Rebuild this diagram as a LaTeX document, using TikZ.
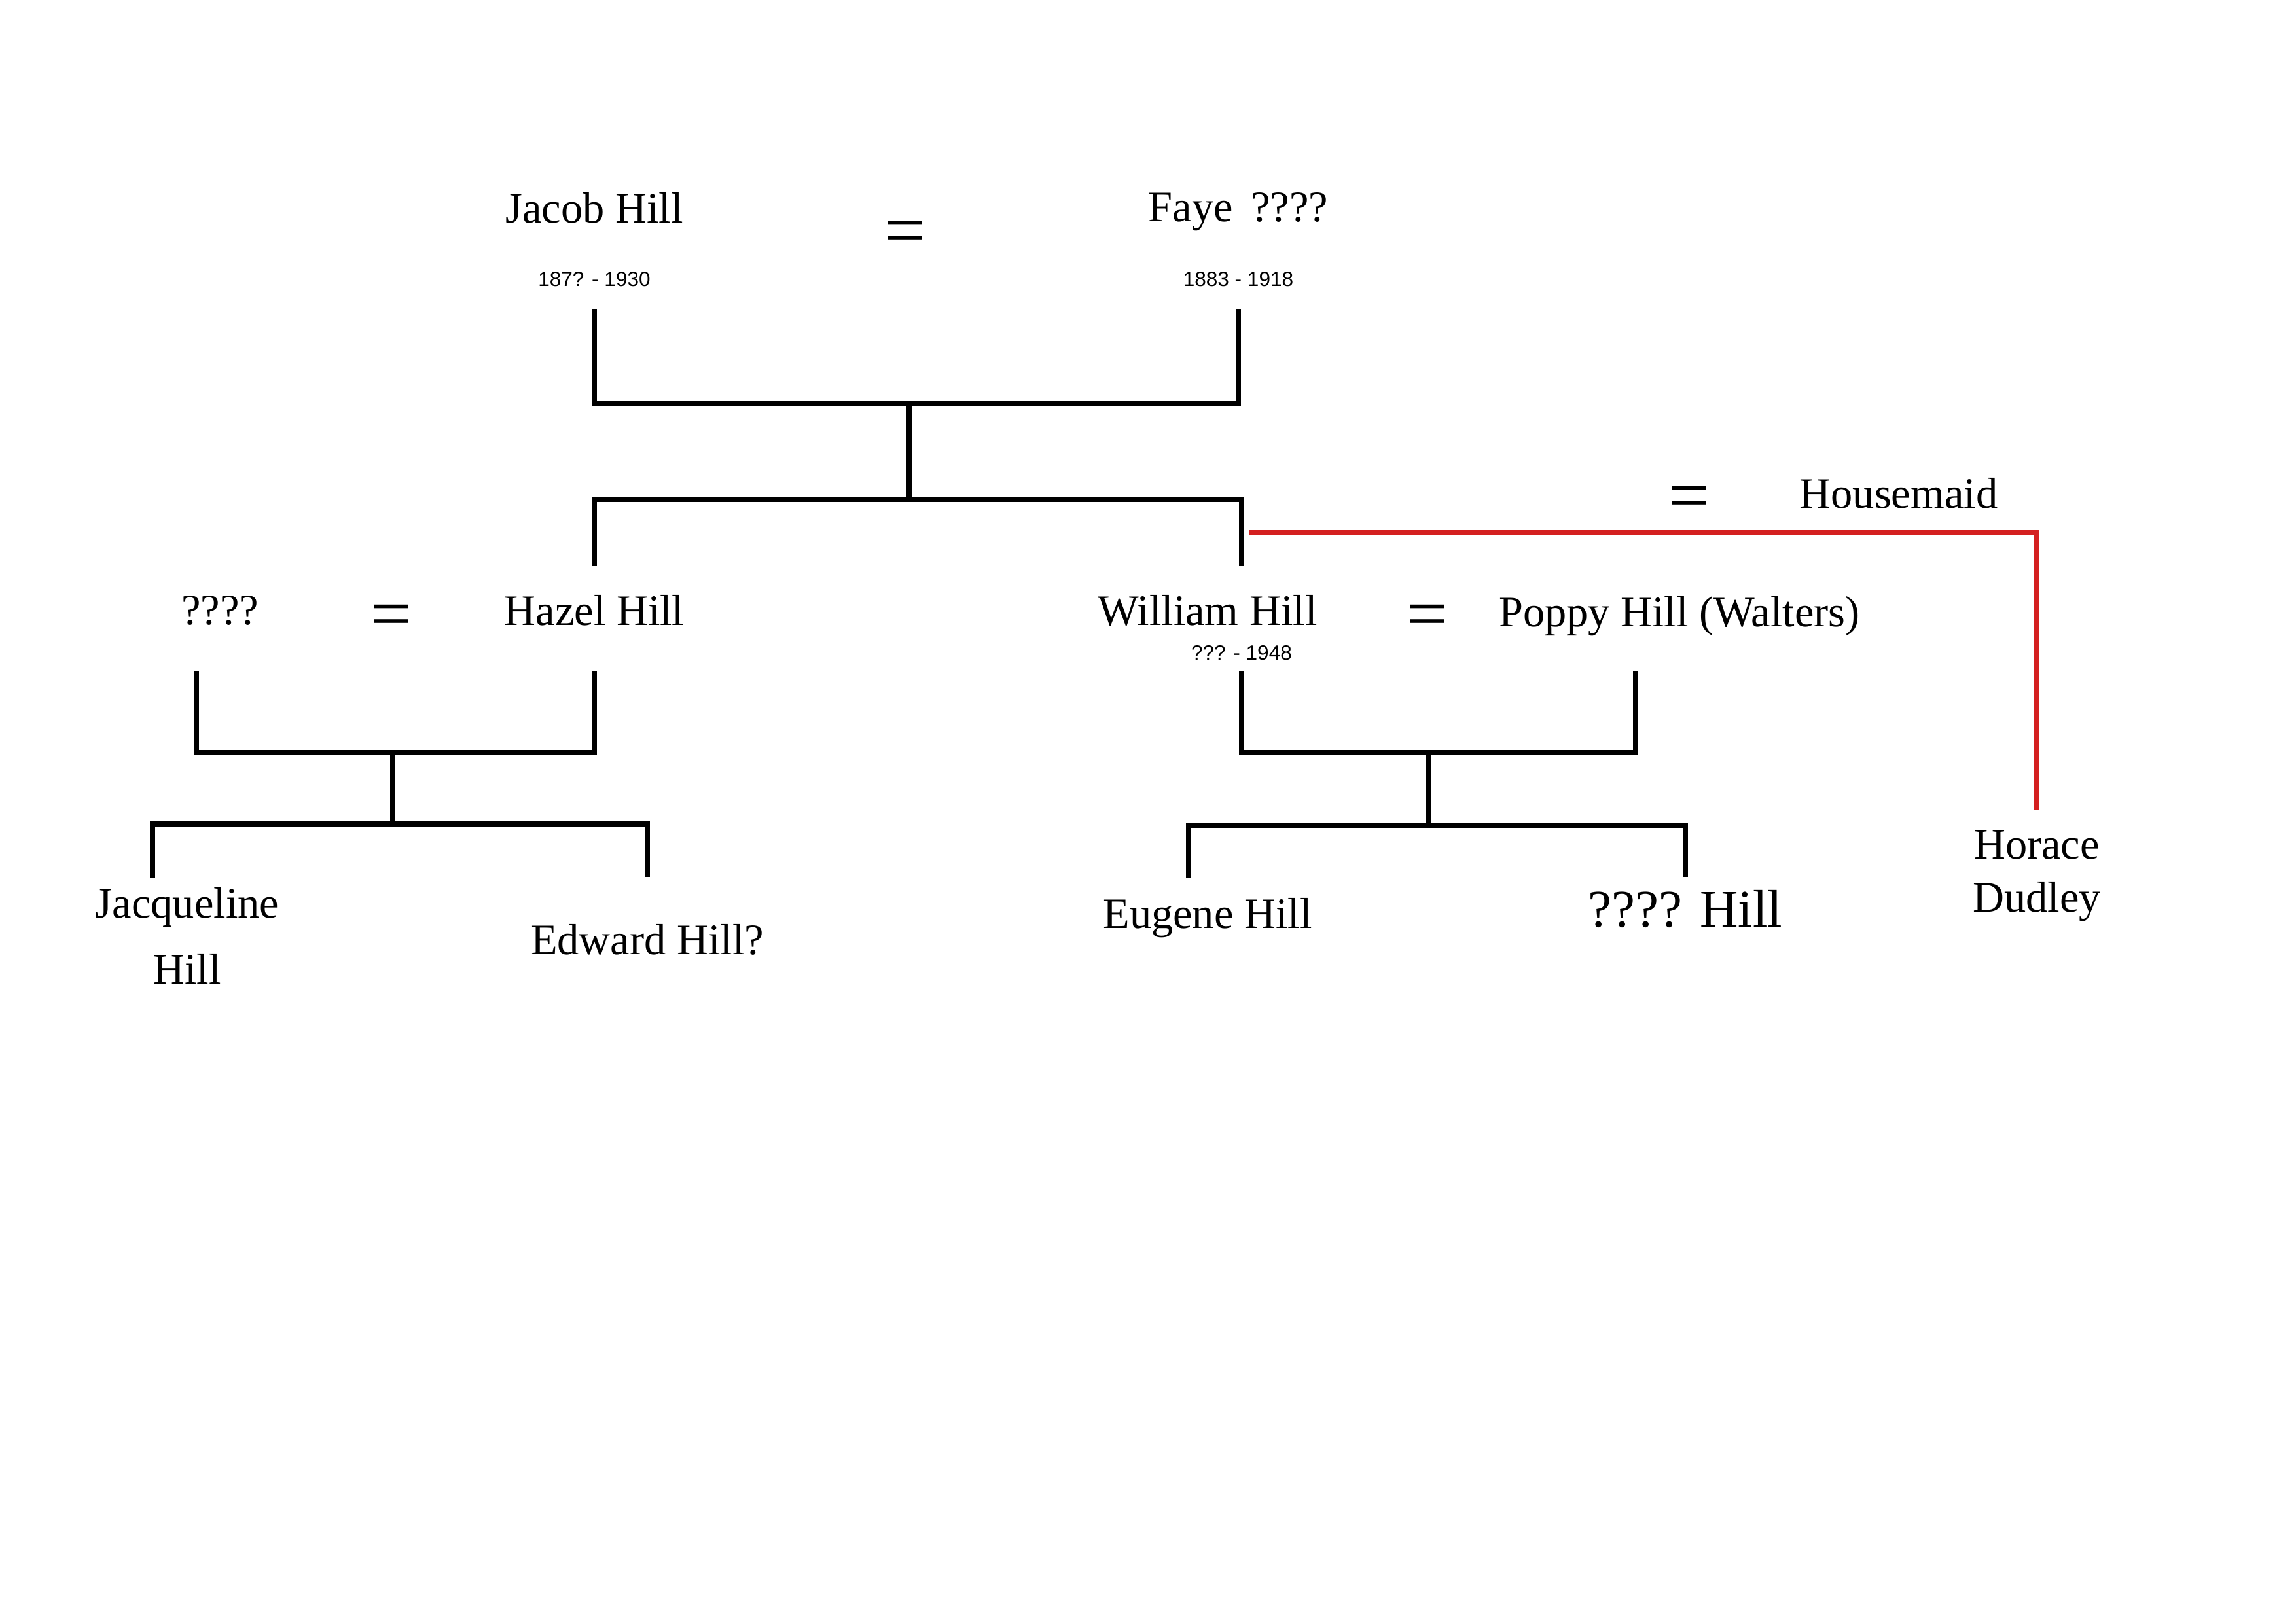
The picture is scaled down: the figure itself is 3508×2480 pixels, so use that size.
\documentclass[tikz,border=0pt]{standalone}
\usepackage{fontspec}
\setmainfont{Liberation Serif}
\newfontfamily\datefont{Liberation Sans}
\usetikzlibrary{calc}
\definecolor{tiered}{HTML}{D42020}

\begin{document}
\begin{tikzpicture}[x=0.08467mm,y=-0.08467mm,
  person/.style={inner sep=0pt,align=center,font=\fontsize{16}{24.5}\selectfont},
  dates/.style={inner sep=0pt,font=\datefont\fontsize{7.6}{9}\selectfont},
  wed/.style={inner sep=0pt,font=\fontsize{27}{30}\selectfont},
  tie/.style={line width=0.6mm,line cap=rect},
  half/.style={line width=0.6mm,draw=tiered}]
\useasboundingbox (0,0) rectangle (3508,2480);
% first generation
\node[person] (jacob) at (908,318) {Jacob Hill};
\node[dates] (jacobd) at (908,427) {187? - 1930};
\node[wed] (eq1) at (1383,364) {=};
\node[person] (faye) at (1892,324) {Faye\ \,????};
\node[dates] (fayed) at (1892,427) {1883 - 1918};
% second generation
\node[person] (hazelsp) at (336,933) {????};
\node[wed] (eq2) at (598,950) {=};
\node[person] (hazel) at (908,933) {Hazel Hill};
\node[person] (william) at (1845,933) {William Hill};
\node[dates] (williamd) at (1897,998) {??? - 1948};
\node[wed] (eq3) at (2181,950) {=};
\node[person] (poppy) at (2566,942) {Poppy Hill (Walters)};
\node[wed] (eq4) at (2581,769) {=};
\node[person] (maid) at (2901,754) {Housemaid};
% third generation
\node[person] (jacq) at (286,1430) {Jacqueline\\Hill};
\node[person] (edward) at (989,1436) {Edward Hill?};
\node[person] (eugene) at (1845,1403) {Eugene Hill};
\node[person,font=\fontsize{19.5}{24}\selectfont] (unk) at (2575,1389) {???? Hill};
\node[person,font=\fontsize{16}{19.5}\selectfont] (horace) at (3112,1338) {Horace\\Dudley};
% junctions
\coordinate (j1) at (1389,617);
\coordinate (j2) at (1389,763);
\coordinate (j3) at (600,1150);
\coordinate (j4) at (600,1259);
\coordinate (j5) at (2183,1150);
\coordinate (j6) at (2183,1261);
\coordinate (spfoot) at (300,1029);
\coordinate (ppfoot) at (2499,1029);
\coordinate (jqfoot) at (233,1338);
\coordinate (eufoot) at (1816,1338);
\coordinate (affair) at (1908,814);
% lines
\draw[tie] (jacobd |- 0,476) |- (j1) -| (fayed |- 0,476);
\draw[tie] (j1) -- (j2);
\draw[tie] (hazel |- 0,861) |- (j2) -| (williamd |- 0,861);
\draw[tie] (spfoot) |- (j3) -| (hazel |- 0,1029);
\draw[tie] (j3) -- (j4);
\draw[tie] (jqfoot) |- (j4) -| (edward |- 0,1336);
\draw[tie] (williamd |- 0,1029) |- (j5) -| (ppfoot);
\draw[tie] (j5) -- (j6);
\draw[tie] (eufoot) |- (j6) -| (unk |- 0,1336);
\draw[half] (affair) -| (horace |- 0,1237);
\end{tikzpicture}
\end{document}
